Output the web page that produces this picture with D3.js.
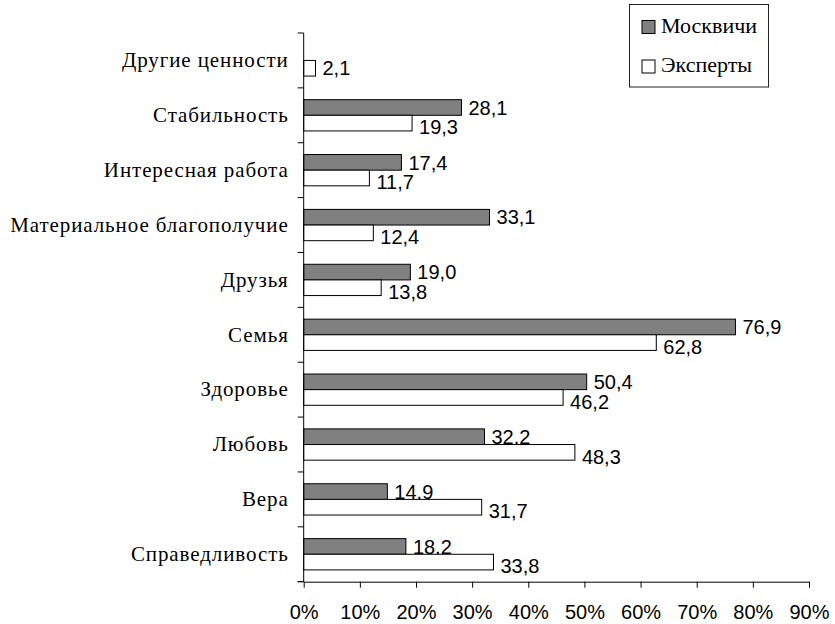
<!DOCTYPE html>
<html>
<head>
<meta charset="utf-8">
<script src="https://cdn.jsdelivr.net/npm/d3@7"></script>
<style>
  body { margin: 0; background: #fff; }
  svg { display: block; }
  .serif { font-family: "Liberation Serif", "Times New Roman", Times, "DejaVu Serif", serif; }
  .sans { font-family: "Liberation Sans", Arial, Helvetica, sans-serif; }
</style>
</head>
<body>
<svg id="chart" width="835" height="624"></svg>
<script>
// categories, top to bottom
const categories = ["Другие ценности", "Стабильность", "Интересная работа", "Материальное благополучие",
  "Друзья", "Семья", "Здоровье", "Любовь", "Вера", "Справедливость"];
const seriesNames = ["Москвичи", "Эксперты"];
const moscow = [null, 28.1, 17.4, 33.1, 19.0, 76.9, 50.4, 32.2, 14.9, 18.2];
const experts = [2.1, 19.3, 11.7, 12.4, 13.8, 62.8, 46.2, 48.3, 31.7, 33.8];
const xTicks = [0, 10, 20, 30, 40, 50, 60, 70, 80, 90];

const fills = { "Москвичи": "#808080", "Эксперты": "#ffffff" };

const svg = d3.select("#chart");
const plotLeft = 303.7, plotRight = 809, plotTop = 33, plotBottom = 581.7;

const x = d3.scaleLinear().domain([0, 90]).range([plotLeft, plotRight]);
const y = d3.scaleBand().domain(categories).range([plotTop, plotBottom]).paddingInner(0.43).paddingOuter(0.215);
const ySub = d3.scaleBand().domain(seriesNames).range([0, y.bandwidth()]);

const fmt = v => d3.format(".1f")(v).replace(".", ",");

// rows
const rows = categories.map((c, i) => ({ cat: c, values: [
  { s: "Москвичи", v: moscow[i] },
  { s: "Эксперты", v: experts[i] }
]}));

// bars
const g = svg.append("g");
rows.forEach(r => {
  const alone = r.values.filter(d => d.v != null).length === 1;
  r.values.forEach(d => {
    if (d.v == null) return;
    const y0 = y(r.cat) + ySub(d.s);
    g.append("rect")
      .attr("x", x(0))
      .attr("y", y0)
      .attr("width", x(d.v) - x(0))
      .attr("height", ySub.bandwidth())
      .attr("fill", fills[d.s])
      .attr("stroke", "#000")
      .attr("stroke-width", 1);
    const shift = (d.s === "Эксперты" && !alone) ? 4 : 0;
    g.append("text")
      .attr("class", "sans")
      .attr("x", x(d.v) + 7)
      .attr("y", y0 + ySub.bandwidth() / 2 + shift)
      .attr("dy", "0.36em")
      .attr("font-size", 20)
      .attr("fill", "#000")
      .text(fmt(d.v));
  });
});

// category labels
svg.append("g").selectAll("text")
  .data(categories)
  .join("text")
  .attr("class", "serif")
  .attr("x", plotLeft - 15)
  .attr("y", d => y(d) + y.bandwidth() / 2)
  .attr("dy", "0.32em")
  .attr("text-anchor", "end")
  .attr("font-size", 21)
  .attr("letter-spacing", 0.9)
  .attr("fill", "#000")
  .text(d => d);

// y axis with ticks at category boundaries
const axis = svg.append("g").attr("stroke", "#000").attr("stroke-width", 1);
axis.append("line").attr("x1", plotLeft).attr("x2", plotLeft).attr("y1", plotTop).attr("y2", plotBottom);
d3.range(categories.length + 1).forEach(i => {
  const yy = y.range()[0] + i * y.step();
  axis.append("line").attr("x1", plotLeft - 6).attr("x2", plotLeft).attr("y1", yy).attr("y2", yy);
});

// x axis
const xAxis = svg.append("g")
  .attr("transform", `translate(0,${plotBottom})`)
  .call(d3.axisBottom(x).tickValues(xTicks).tickSize(6).tickSizeOuter(0).tickPadding(17).tickFormat(d => d + "%"));
xAxis.attr("font-family", null);
xAxis.select(".domain").attr("stroke", "#000");
xAxis.selectAll(".tick line").attr("stroke", "#000");
xAxis.selectAll(".tick text")
  .attr("class", "sans")
  .attr("font-size", 20)
  .attr("fill", "#000");
// extend x axis line left by the tick length
svg.append("line").attr("x1", plotLeft - 6).attr("x2", plotLeft).attr("y1", plotBottom).attr("y2", plotBottom).attr("stroke", "#000");

// legend
const legend = svg.append("g");
legend.append("rect")
  .attr("x", 629.5).attr("y", 4.5).attr("width", 139).attr("height", 82.5)
  .attr("fill", "#fff").attr("stroke", "#222");
seriesNames.forEach((s, i) => {
  const ly = 20.5 + i * 39.5;
  legend.append("rect")
    .attr("x", 642).attr("y", ly).attr("width", 13).attr("height", 13)
    .attr("fill", fills[s]).attr("stroke", "#000");
  legend.append("text")
    .attr("class", "serif")
    .attr("x", 661).attr("y", ly + 12)
    .attr("font-size", 22)
    .attr("fill", "#000")
    .text(s);
});
</script>
</body>
</html>
